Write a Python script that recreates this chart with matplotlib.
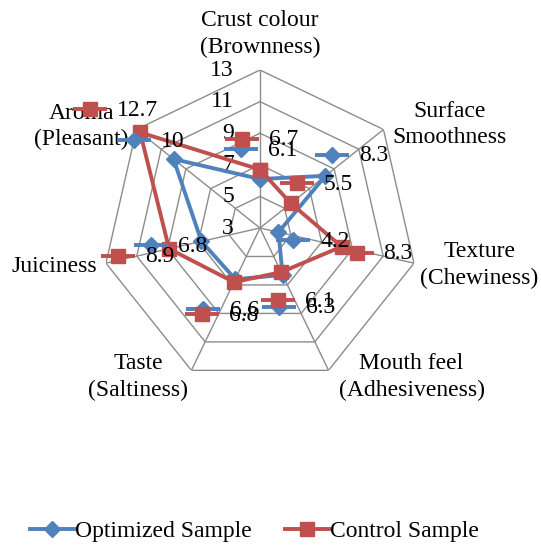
import numpy as np
import matplotlib
matplotlib.use("Agg")
import matplotlib.pyplot as plt
from matplotlib import transforms
from matplotlib.lines import Line2D

plt.rcParams['font.family'] = ['Liberation Serif', 'DejaVu Serif']

# datos
categorias = ["Crust colour\n(Brownness)", "Surface\nSmoothness", "Texture\n(Chewiness)",
              "Mouth feel\n(Adhesiveness)", "Taste\n(Saltiness)", "Juiciness", "Aroma\n(Pleasant)"]
optimizado = [6.1, 8.3, 4.2, 6.3, 6.6, 6.8, 10]
control = [6.7, 5.5, 8.3, 6.1, 6.8, 8.9, 12.7]
ticks = [3, 5, 7, 9, 11, 13]

azul = "#4F81BD"
rojo = "#C0504D"
gris = "#8C8C8C"
fs = 17

n = len(categorias)
angulos = np.arange(n) * 2 * np.pi / n

fig = plt.figure(figsize=(5.41, 5.46), dpi=100)
ax = fig.add_axes([0.1885, 0.293, 0.5841, 0.5788], projection="polar")
ax.set_theta_offset(np.pi / 2)
ax.set_theta_direction(-1)
ax.set_ylim(ticks[0], ticks[-1])
ax.grid(False)
ax.set_xticks([])
ax.set_yticks([])
ax.spines["polar"].set_visible(False)
ax.patch.set_visible(False)

# rejilla poligonal
cerrado = np.append(angulos, angulos[0])
for t in ticks[1:]:
    ax.plot(cerrado, [t] * (n + 1), color=gris, lw=1, zorder=1)
for a in angulos:
    ax.plot([a, a], [ticks[0], ticks[-1]], color=gris, lw=1, zorder=1)

# etiquetas del eje
for t in ticks:
    ax.annotate(str(t), xy=(0, t), xytext=(-26, 0), textcoords="offset pixels",
                ha="right", va="center", fontsize=fs)

# nombres de categorias
off_cat = [(0, 12, "center", "bottom"), (9, 5, "left", "center"), (6, -2, "left", "center"),
           (10, -7, "left", "center"), (-3, -7, "right", "center"), (-9, -3, "right", "center"),
           (-8, 3, "right", "center")]
for a, c, (dx, dy, ha, va) in zip(angulos, categorias, off_cat):
    ax.annotate(c, xy=(a, ticks[-1]), xytext=(dx, dy), textcoords="offset pixels",
                ha=ha, va=va, fontsize=fs, multialignment="center", linespacing=1.35)

# series
ax.plot(cerrado, optimizado + optimizado[:1], color=azul, lw=2.8, marker="D", ms=8,
        zorder=3, clip_on=False)
ax.plot(cerrado, control + control[:1], color=rojo, lw=2.8, marker="s", ms=10,
        zorder=4, clip_on=False)

# etiquetas de datos con clave de leyenda
off_opt = [(-19, 30), (7, 21), (15, -8), (-4, -32), (-32, -30), (-50, -4), (-40, 19)]
off_ctl = [(-18, 31), (6, 20), (15, -6), (-3, -28), (-32, -32), (-51, -7), (-50, 23)]

def etiquetas(valores, offs, color, marcador, ms, z):
    for a, v, (kx, ky) in zip(angulos, valores, offs):
        tr = transforms.offset_copy(ax.transData, fig=fig, x=kx, y=ky, units="dots")
        ax.plot([a], [v], transform=tr, marker="_", ms=25, mew=2.8, color=color,
                clip_on=False, zorder=z)
        ax.plot([a], [v], transform=tr, marker=marcador, ms=ms, color=color,
                clip_on=False, zorder=z)
        ax.annotate(f"{v:g}", xy=(a, v), xytext=(kx + 27, ky - 1), textcoords="offset pixels",
                    ha="left", va="center", fontsize=fs, zorder=z)

etiquetas(optimizado, off_opt, azul, "D", 8, 5)
etiquetas(control, off_ctl, rojo, "s", 10, 6)

handles = [Line2D([], [], color=azul, lw=2.8, marker="D", ms=8),
           Line2D([], [], color=rojo, lw=2.8, marker="s", ms=10)]
fig.legend(handles, ["Optimized Sample", "Control Sample"], loc="lower center",
           bbox_to_anchor=(0.47, -0.032), ncol=2, frameon=False, fontsize=fs,
           handlelength=1.9, handletextpad=0.0, columnspacing=1.4)

fig.savefig("out.png", dpi=100)
